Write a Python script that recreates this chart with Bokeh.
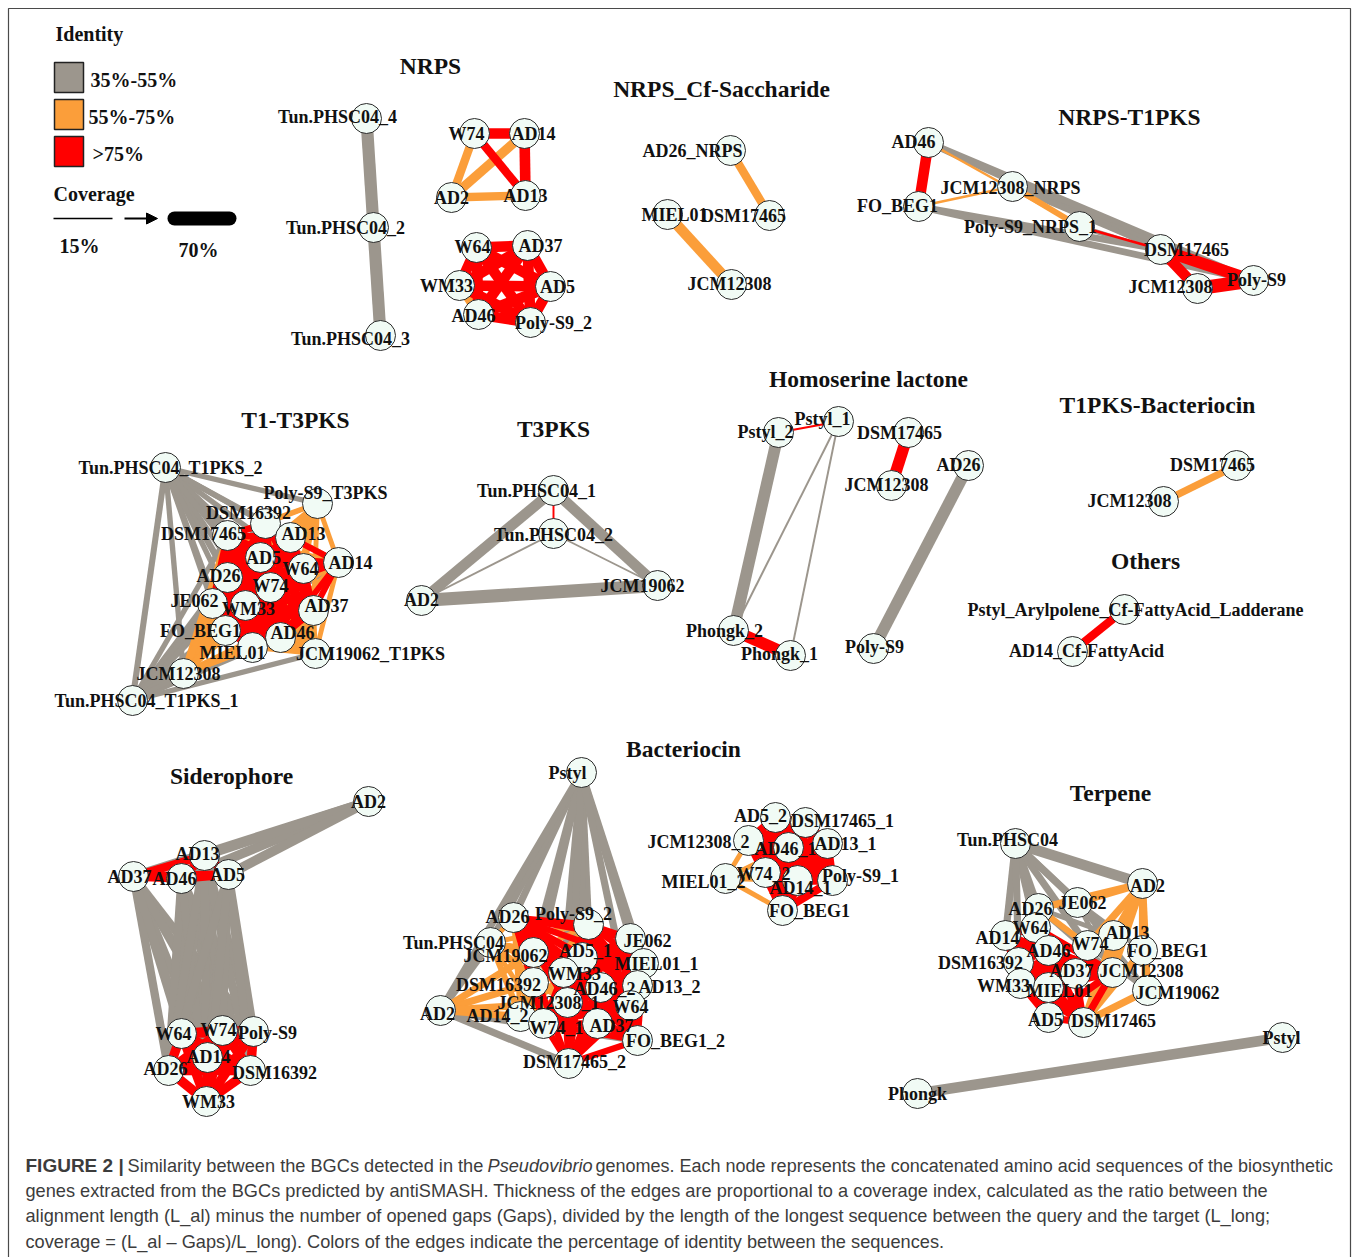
from bokeh.plotting import figure
from bokeh.models import Range1d, ColumnDataSource, Arrow, NormalHead
from bokeh.embed import file_html
from bokeh.resources import INLINE
from bokeh.core.properties import value
from itertools import combinations

# ---------------- data ----------------
IDENTITY_CLASSES = ["35%-55%", "55%-75%", ">75%"]
IDENTITY_COLORS = ["#9c968d", "#fb9e3a", "#ff0000"]
COVERAGE_LEGEND = [15, 70]          # coverage (%) shown in the legend
G, O, R = 0, 1, 2                   # identity class index


def clique(members, ident, cov):
    return [(a, b, ident, cov) for a, b in combinations(members, 2)]


def star(center, members, ident, cov):
    return [(center, m, ident, cov) for m in members]


# ---- NRPS ----
NRPS_EDGES = [
    ("Tun.PHSC04_4", "Tun.PHSC04_2", G, 62), ("Tun.PHSC04_2", "Tun.PHSC04_3", G, 62),
    ("W74", "AD14", R, 55), ("W74", "AD13", R, 45), ("AD14", "AD13", R, 55),
    ("W74", "AD2", O, 45), ("AD14", "AD2", O, 50), ("AD2", "AD13", O, 45),
    ("WM33", "AD46", O, 45),
] + [e for e in clique(["W64", "AD37", "AD5", "Poly-S9_2", "AD46", "WM33"], R, 55)
     if {e[0], e[1]} != {"WM33", "AD46"}]

# ---- NRPS_Cf-Saccharide ----
SACCH_EDGES = [("AD26_NRPS", "DSM17465", O, 45), ("MIEL01", "JCM12308", O, 55)]

# ---- NRPS-T1PKS ----
NT1_EDGES = [
    ("AD46", "DSM17465", G, 38), ("AD46", "Poly-S9", G, 38),
    ("FO_BEG1", "DSM17465", G, 38), ("FO_BEG1", "Poly-S9", G, 38),
    ("JCM12308_NRPS", "Poly-S9", G, 30), ("JCM12308_NRPS", "DSM17465", G, 30),
    ("Poly-S9_NRPS_1", "Poly-S9", G, 30),
    ("AD46", "Poly-S9_NRPS_1", O, 19), ("JCM12308_NRPS", "Poly-S9_NRPS_1", O, 35),
    ("FO_BEG1", "JCM12308_NRPS", O, 19),
    ("AD46", "FO_BEG1", R, 55), ("Poly-S9_NRPS_1", "DSM17465", R, 20),
    ("DSM17465", "Poly-S9", R, 60), ("DSM17465", "JCM12308", R, 55), ("JCM12308", "Poly-S9", R, 68),
]

# ---- T1-T3PKS ----
T13_CORE = ["DSM17465", "DSM16392", "AD13", "AD5", "W64", "AD26", "W74", "JE062",
            "WM33", "AD37", "FO_BEG1", "AD46", "MIEL01"]
T13_EDGES = (
    [("Tun.PHSC04_T1PKS_2", "Tun.PHSC04_T1PKS_1", G, 35)]
    + star("Tun.PHSC04_T1PKS_2", T13_CORE + ["Poly-S9_T3PKS", "AD14", "JCM19062_T1PKS", "JCM12308"], G, 32)
    + star("Tun.PHSC04_T1PKS_1", T13_CORE + ["Poly-S9_T3PKS", "AD14", "JCM19062_T1PKS", "JCM12308"], G, 32)
    + star("Poly-S9_T3PKS", T13_CORE + ["AD14"], O, 30)
    + star("JCM19062_T1PKS", T13_CORE + ["AD14"], O, 30)
    + star("JCM12308", T13_CORE, O, 34)
    + star("AD14", ["DSM17465", "DSM16392", "AD26", "JE062", "FO_BEG1", "MIEL01"], O, 30)
    + star("AD14", ["W64", "AD37", "AD13", "AD5", "W74", "AD46"], R, 35)
    + clique(T13_CORE, R, 38)
)

# ---- T3PKS ----
T3_EDGES = [
    ("Tun.PHSC04_1", "AD2", G, 55), ("Tun.PHSC04_1", "JCM19062", G, 55), ("AD2", "JCM19062", G, 66),
    ("Tun.PHSC04_2", "AD2", G, 17), ("Tun.PHSC04_2", "JCM19062", G, 17),
    ("Tun.PHSC04_1", "Tun.PHSC04_2", R, 17),
]

# ---- Homoserine lactone ----
HSL_EDGES = [
    ("Pstyl_2", "Phongk_2", G, 60), ("Pstyl_1", "Phongk_2", G, 17), ("Pstyl_1", "Phongk_1", G, 17),
    ("AD26", "Poly-S9", G, 60),
    ("Pstyl_2", "Pstyl_1", R, 18), ("Phongk_2", "Phongk_1", R, 60), ("DSM17465", "JCM12308", R, 60),
]

# ---- T1PKS-Bacteriocin ----
T1B_EDGES = [("DSM17465", "JCM12308", O, 40)]

# ---- Others ----
OTH_EDGES = [("Pstyl_Arylpolene_Cf-FattyAcid_Ladderane", "AD14_Cf-FattyAcid", R, 45)]

# ---- Siderophore ----
SID_TOP = ["AD37", "AD46", "AD13", "AD5"]
SID_BOTTOM = ["W64", "W74", "Poly-S9", "AD14", "AD26", "DSM16392", "WM33"]
SID_EDGES = (
    star("AD2", SID_TOP, G, 50)
    + [(a, b, G, 45) for a in SID_TOP for b in SID_BOTTOM]
    + clique(SID_TOP, R, 45)
    + clique(SID_BOTTOM, R, 50)
)

# ---- Bacteriocin ----
BAC_RED = ["AD26", "Poly-S9_2", "AD5_1", "JE062", "MIEL01_1", "WM33", "AD46_2", "AD13_2",
           "JCM12308_1", "W64", "W74_1", "AD37", "FO_BEG1_2", "DSM17465_2"]
BAC_ORANGE = ["Tun.PHSC04", "JCM19062", "DSM16392", "AD14_2"]
BAC_RIGHT_RED = ["AD5_2", "DSM17465_1", "AD46_1", "AD13_1", "W74_2", "AD14_1", "Poly-S9_1",
                 "FO_BEG1", "JCM12308_2"]
BAC_EDGES = (
    star("Pstyl", ["AD26", "Poly-S9_2", "Tun.PHSC04", "JE062", "JCM19062", "AD5_1", "MIEL01_1",
                   "WM33", "DSM16392", "AD2", "DSM17465_2", "FO_BEG1_2"], G, 40)
    + star("AD2", ["Tun.PHSC04", "DSM17465_2", "W74_1", "FO_BEG1_2"], G, 40)
    + star("AD2", ["DSM16392", "AD14_2", "JCM19062", "JCM12308_1"], O, 40)
    + clique(BAC_ORANGE, O, 35)
    + [(a, b, O, 30) for a in BAC_ORANGE for b in ["AD26", "Poly-S9_2", "WM33", "JCM12308_1", "W74_1", "AD5_1"]]
    + clique(BAC_RED, R, 36)
    + star("MIEL01_2", ["JCM12308_2", "W74_2", "AD46_1", "FO_BEG1", "AD14_1"], O, 30)
    + clique(BAC_RIGHT_RED, R, 45)
)

# ---- Terpene ----
TER_RED = ["AD14", "W64", "AD46", "DSM16392", "WM33", "MIEL01", "AD5", "AD37", "DSM17465", "JCM12308"]
TER_EDGES = (
    [("Phongk", "Pstyl", G, 55), ("Tun.PHSC04", "AD2", G, 55)]
    + star("Tun.PHSC04", ["AD26", "W64", "AD14", "AD46", "DSM16392", "JE062", "W74", "AD13"], G, 40)
    + star("JE062", ["JCM12308", "FO_BEG1", "JCM19062"], G, 30)
    + star("AD26", ["JCM12308", "JCM19062", "AD13"], G, 30)
    + star("AD2", ["JE062", "AD13", "W74", "FO_BEG1", "JCM19062", "JCM12308", "DSM17465", "AD26"], O, 40)
    + [("AD26", "W74", O, 35), ("W64", "AD37", O, 35), ("AD13", "DSM17465", O, 40),
       ("AD13", "MIEL01", O, 35), ("FO_BEG1", "DSM17465", O, 40), ("JCM19062", "DSM17465", O, 40)]
    + clique(TER_RED, R, 40)
)

# ---------------- layout (node centre x, y ; label centre x, y) ----------------
NRPS_POS = {
    "Tun.PHSC04_4": (366, 118, 337, 116), "Tun.PHSC04_2": (373, 227, 345, 227),
    "Tun.PHSC04_3": (380, 335, 350, 338), "W74": (474, 133, 466, 133), "AD14": (524, 133, 533, 133),
    "AD2": (451, 197, 451, 197), "AD13": (525, 195, 525, 195), "W64": (476, 247, 472, 246),
    "AD37": (527, 245, 540, 245), "WM33": (459, 285, 446, 285), "AD5": (550, 286, 557, 286),
    "AD46": (478, 314, 473, 315), "Poly-S9_2": (530, 322, 553, 322),
}
SACCH_POS = {
    "AD26_NRPS": (730, 150, 692, 150), "DSM17465": (769, 215, 743, 215),
    "MIEL01": (667, 214, 674, 214), "JCM12308": (731, 284, 729, 283),
}
NT1_POS = {
    "AD46": (928, 142, 913, 141), "FO_BEG1": (918, 206, 897, 205),
    "JCM12308_NRPS": (1012, 186, 1010, 187), "Poly-S9_NRPS_1": (1079, 226, 1030, 226),
    "DSM17465": (1160, 249, 1186, 249), "JCM12308": (1197, 288, 1170, 286),
    "Poly-S9": (1253, 280, 1256, 279),
}
T13_POS = {
    "Tun.PHSC04_T1PKS_2": (165, 467, 170, 467), "Poly-S9_T3PKS": (317, 503, 325, 492),
    "DSM16392": (265, 523, 248, 512), "DSM17465": (227, 535, 203, 533), "AD13": (290, 537, 303, 533),
    "AD5": (260, 557, 263, 557), "W64": (303, 568, 300, 568), "AD14": (338, 562, 350, 562),
    "AD26": (227, 577, 218, 575), "W74": (270, 587, 270, 585), "JE062": (212, 603, 194, 600),
    "WM33": (245, 605, 248, 608), "AD37": (313, 610, 326, 605), "FO_BEG1": (225, 630, 200, 630),
    "AD46": (280, 637, 292, 632), "MIEL01": (252, 647, 232, 652),
    "JCM19062_T1PKS": (315, 653, 370, 653), "JCM12308": (183, 673, 178, 673),
    "Tun.PHSC04_T1PKS_1": (132, 700, 146, 700),
}
T3_POS = {
    "Tun.PHSC04_1": (553, 490, 536, 490), "Tun.PHSC04_2": (553, 533, 553, 534),
    "AD2": (421, 600, 421, 599), "JCM19062": (657, 585, 642, 585),
}
HSL_POS = {
    "Pstyl_2": (778, 432, 765, 431), "Pstyl_1": (838, 421, 822, 418),
    "DSM17465": (908, 432, 899, 432), "JCM12308": (891, 485, 886, 484),
    "AD26": (968, 465, 958, 464), "Phongk_2": (733, 630, 724, 630),
    "Phongk_1": (790, 655, 779, 653), "Poly-S9": (873, 648, 874, 646),
}
T1B_POS = {"DSM17465": (1236, 465, 1212, 464), "JCM12308": (1163, 501, 1129, 500)}
OTH_POS = {
    "Pstyl_Arylpolene_Cf-FattyAcid_Ladderane": (1124, 609, 1135, 609),
    "AD14_Cf-FattyAcid": (1072, 651, 1086, 650),
}
SID_POS = {
    "AD2": (368, 801, 368, 801), "AD13": (204, 855, 197, 853), "AD37": (133, 876, 129, 876),
    "AD46": (181, 878, 174, 878), "AD5": (228, 874, 227, 874), "W64": (181, 1033, 173, 1033),
    "W74": (222, 1030, 218, 1029), "Poly-S9": (253, 1031, 267, 1032), "AD14": (207, 1057, 208, 1056),
    "AD26": (168, 1070, 165, 1068), "DSM16392": (250, 1070, 274, 1072), "WM33": (206, 1101, 208, 1101),
}
BAC_POS = {
    "Pstyl": (581, 772, 567, 772), "AD26": (513, 917, 507, 916), "Poly-S9_2": (588, 924, 573, 913),
    "Tun.PHSC04": (490, 942, 453, 942), "JE062": (630, 938, 647, 940), "JCM19062": (533, 952, 505, 955),
    "AD5_1": (582, 957, 585, 950), "MIEL01_1": (643, 963, 656, 963), "WM33": (563, 972, 574, 973),
    "DSM16392": (533, 982, 498, 984), "AD46_2": (600, 987, 604, 988), "AD13_2": (637, 985, 669, 986),
    "JCM12308_1": (567, 1002, 548, 1002), "W64": (630, 1005, 630, 1006), "AD2": (440, 1010, 437, 1013),
    "AD14_2": (520, 1016, 497, 1015), "W74_1": (543, 1023, 556, 1027), "AD37": (597, 1023, 611, 1025),
    "FO_BEG1_2": (637, 1040, 675, 1040), "DSM17465_2": (568, 1063, 574, 1061),
    "AD5_2": (775, 817, 760, 815), "DSM17465_1": (805, 822, 842, 820), "JCM12308_2": (748, 840, 698, 841),
    "AD46_1": (788, 847, 785, 848), "AD13_1": (827, 843, 845, 843), "MIEL01_2": (725, 878, 703, 881),
    "W74_2": (765, 872, 763, 873), "AD14_1": (797, 880, 800, 887), "Poly-S9_1": (832, 880, 860, 875),
    "FO_BEG1": (782, 910, 809, 910),
}
TER_POS = {
    "Tun.PHSC04": (1015, 843, 1007, 839), "AD2": (1142, 883, 1147, 885), "AD26": (1038, 908, 1030, 908),
    "JE062": (1077, 902, 1082, 902), "W64": (1035, 927, 1030, 927), "AD14": (1005, 935, 997, 937),
    "AD13": (1113, 935, 1127, 932), "AD46": (1048, 950, 1048, 950), "W74": (1087, 945, 1090, 943),
    "FO_BEG1": (1142, 950, 1167, 950), "DSM16392": (1018, 962, 980, 962), "AD37": (1075, 973, 1071, 970),
    "JCM12308": (1112, 972, 1141, 970), "WM33": (1020, 983, 1003, 985), "MIEL01": (1048, 987, 1059, 990),
    "JCM19062": (1147, 990, 1177, 992), "AD5": (1048, 1017, 1045, 1019),
    "DSM17465": (1083, 1022, 1113, 1020), "Phongk": (917, 1093, 917, 1093), "Pstyl": (1282, 1037, 1281, 1037),
}

CLUSTER_TITLES = ["NRPS", "NRPS_Cf-Saccharide", "NRPS-T1PKS", "T1-T3PKS", "T3PKS",
                  "Homoserine lactone", "T1PKS-Bacteriocin", "Others", "Siderophore",
                  "Bacteriocin", "Terpene"]
CLUSTER_EDGES = [NRPS_EDGES, SACCH_EDGES, NT1_EDGES, T13_EDGES, T3_EDGES, HSL_EDGES,
                 T1B_EDGES, OTH_EDGES, SID_EDGES, BAC_EDGES, TER_EDGES]
CLUSTER_POS = [NRPS_POS, SACCH_POS, NT1_POS, T13_POS, T3_POS, HSL_POS, T1B_POS, OTH_POS,
               SID_POS, BAC_POS, TER_POS]
TITLE_POS = [(430, 65), (721, 88), (1129, 116), (295, 419), (553, 428), (868, 378),
             (1157, 404), (1145, 560), (231, 775), (683, 748), (1110, 792)]

CAPTION_LINES = [
    "genes extracted from the BGCs predicted by antiSMASH. Thickness of the edges are proportional to a coverage index, calculated as the ratio between the",
    "alignment length (L_al) minus the number of opened gaps (Gaps), divided by the length of the longest sequence between the query and the target (L_long;",
    "coverage = (L_al \u2013 Gaps)/L_long). Colors of the edges indicate the percentage of identity between the sequences.",
]

# ---------------- drawing ----------------
SERIF = value("Liberation Serif")
SANS = value("Liberation Sans")


def cov_width(c):
    return 1.5 + (c - COVERAGE_LEGEND[0]) * 12.5 / (COVERAGE_LEGEND[1] - COVERAGE_LEGEND[0])


p = figure(width=1357, height=1257, x_range=Range1d(0, 1357), y_range=Range1d(1257, 0),
           output_backend="svg", toolbar_location=None, min_border=0,
           outline_line_color=None, background_fill_color="white")
p.axis.visible = False
p.grid.visible = False

# frame
p.quad(left=[8], right=[1350], top=[8], bottom=[1262], fill_color=None,
       line_color="#4a4a4a", line_width=1.2)

# edges, grey first then orange then red
for ident in (G, O, R):
    e = dict(x0=[], y0=[], x1=[], y1=[], w=[])
    for edges, pos in zip(CLUSTER_EDGES, CLUSTER_POS):
        for a, b, i, c in edges:
            if i != ident:
                continue
            e["x0"].append(pos[a][0]); e["y0"].append(pos[a][1])
            e["x1"].append(pos[b][0]); e["y1"].append(pos[b][1])
            e["w"].append(cov_width(c))
    p.segment("x0", "y0", "x1", "y1", source=ColumnDataSource(e), line_width="w",
              line_color=IDENTITY_COLORS[ident], line_cap="butt")

nx, ny, lx, ly, lt = [], [], [], [], []
for pos in CLUSTER_POS:
    for name, (x, y, tx, ty) in pos.items():
        nx.append(x); ny.append(y); lx.append(tx); ly.append(ty); lt.append(name)
p.scatter(nx, ny, size=30, marker="circle", fill_color="#f1fbf5", line_color="#2b2b2b", line_width=1)
p.text(lx, ly, text=lt, text_font=SERIF, text_font_style="bold", text_font_size="18px",
       text_align="center", text_baseline="middle", text_color="#111111")

p.text([t[0] for t in TITLE_POS], [t[1] for t in TITLE_POS], text=CLUSTER_TITLES, text_font=SERIF,
       text_font_style="bold", text_font_size="23.5px", text_align="center", text_baseline="middle",
       text_color="#111111")

# legend
LEG_FONT = "20px"
p.text([55], [33], text=["Identity"], text_font=SERIF, text_font_style="bold", text_font_size=LEG_FONT,
       text_baseline="middle", text_color="#111111")
sq_top = [62, 99, 136]
p.quad(left=[54] * 3, right=[83] * 3, top=sq_top, bottom=[t + 30 for t in sq_top],
       fill_color=IDENTITY_COLORS, line_color="#222222", line_width=1.5)
p.text([90, 88, 92], [t + 17 for t in sq_top], text=IDENTITY_CLASSES, text_font=SERIF,
       text_font_style="bold", text_font_size=LEG_FONT, text_baseline="middle", text_color="#111111")
p.text([53], [193], text=["Coverage"], text_font=SERIF, text_font_style="bold", text_font_size=LEG_FONT,
       text_baseline="middle", text_color="#111111")
p.segment([53], [218], [112], [218], line_width=cov_width(COVERAGE_LEGEND[0]), line_color="black")
p.add_layout(Arrow(end=NormalHead(size=11, fill_color="black", line_color="black"),
                   x_start=124, y_start=218, x_end=157, y_end=218, line_width=2, line_color="black"))
p.segment([174], [218], [229], [218], line_width=cov_width(COVERAGE_LEGEND[1]), line_color="black",
          line_cap="round")
p.text([79, 198], [245, 249], text=[f"{c}%" for c in COVERAGE_LEGEND], text_font=SERIF,
       text_font_style="bold", text_font_size=LEG_FONT, text_align="center", text_baseline="middle",
       text_color="#111111")

# caption
CAP_COLOR = "#3c3c3c"
CAP_FONT = "18.2px"
p.text([25], [1165], text=["FIGURE 2 |"], text_font=SANS, text_font_style="bold", text_font_size="19px",
       text_baseline="middle", text_color=CAP_COLOR)
p.text([127], [1165], text=["Similarity between the BGCs detected in the"], text_font=SANS,
       text_font_size=CAP_FONT, text_baseline="middle", text_color=CAP_COLOR)
p.text([487], [1165], text=["Pseudovibrio"], text_font=SANS, text_font_style="italic",
       text_font_size=CAP_FONT, text_baseline="middle", text_color=CAP_COLOR)
p.text([595], [1165], text=["genomes. Each node represents the concatenated amino acid sequences of the biosynthetic"],
       text_font=SANS, text_font_size="18px", text_baseline="middle", text_color=CAP_COLOR)
p.text([25] * 3, [1190, 1215, 1241], text=CAPTION_LINES, text_font=SANS, text_font_size=CAP_FONT,
       text_baseline="middle", text_color=CAP_COLOR)

open("out.html", "w").write(file_html(p, INLINE))
